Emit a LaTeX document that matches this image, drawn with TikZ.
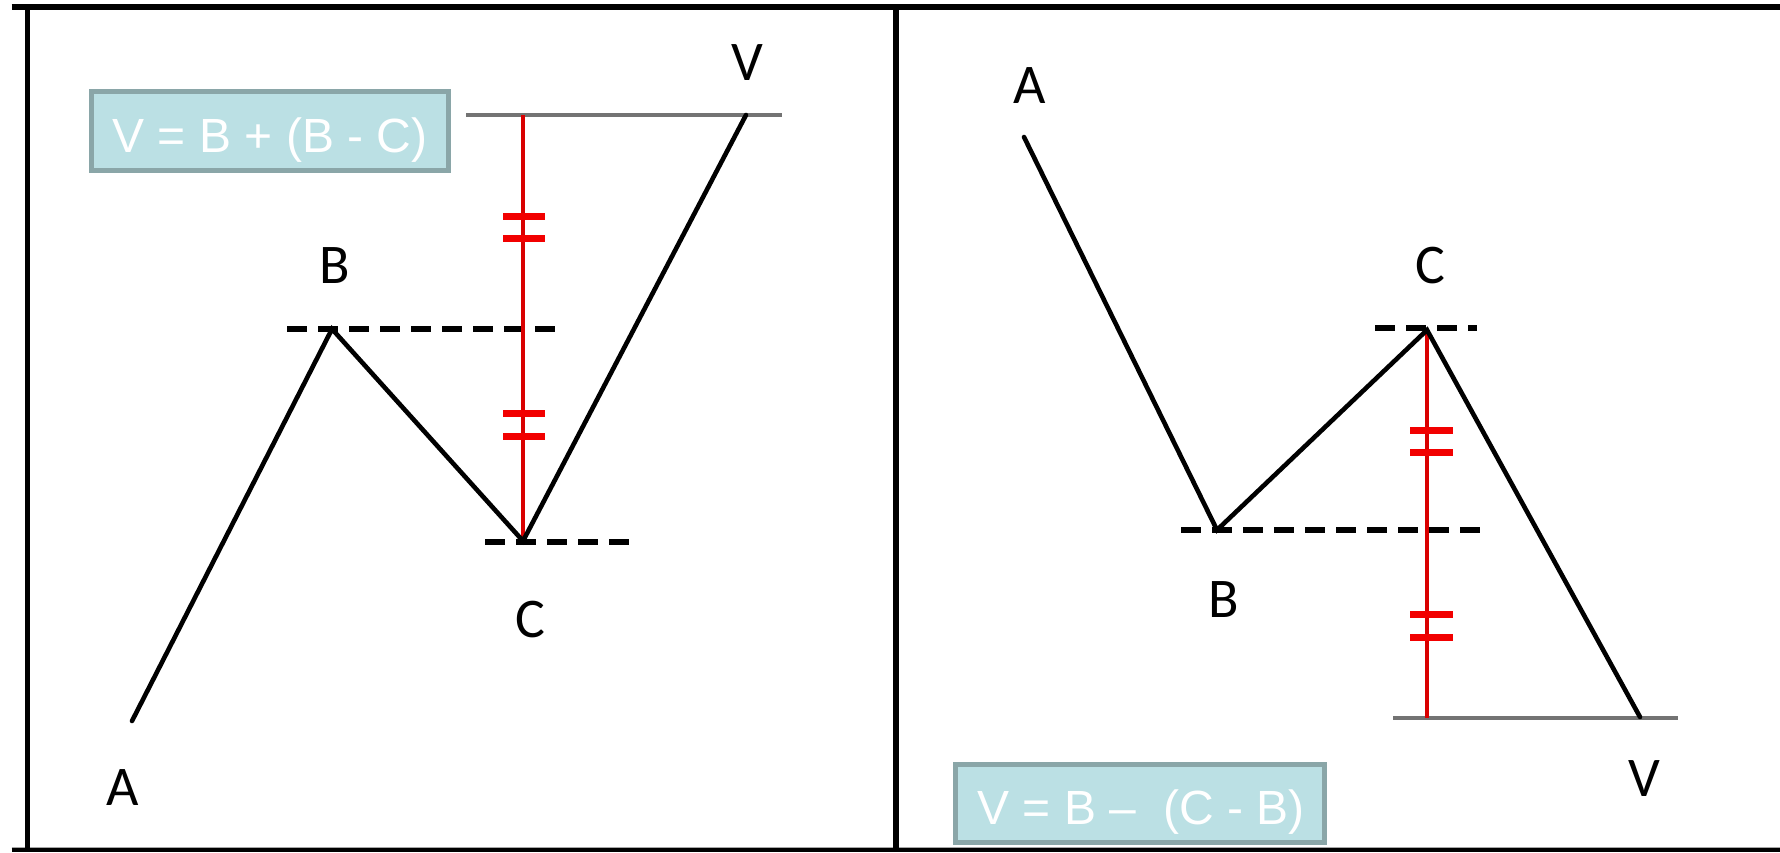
\documentclass[tikz,border=0pt]{standalone}
\usepackage{fontspec}
\setmainfont{Liberation Sans}
\newfontfamily\lblfont{Carlito}
\begin{document}
\begin{tikzpicture}[x=1pt,y=-1pt,
  frame/.style={line width=6pt,black},
  zig/.style={line width=4.6pt,black,line cap=round,line join=miter},
  lvl/.style={line width=6.5pt,black,dash pattern=on 20pt off 11pt},
  grayline/.style={line width=4pt,color=gray!110},
  redline/.style={line width=3.6pt,color=red!85!black},
  tick/.style={line width=7pt,color=red!95!black},
  lbl/.style={anchor=base,inner sep=0pt,font=\lblfont\fontsize{56}{60}\selectfont},
  formula/.style={anchor=base,inner sep=0pt,text=white,font=\fontsize{48}{54}\selectfont},
  fbox/.style={draw=boxborder,fill=boxfill,line width=5pt}]
\definecolor{boxfill}{HTML}{BBE0E4}
\definecolor{boxborder}{HTML}{8AA6A8}
\useasboundingbox (0,0) rectangle (1780,852);
\fill[white] (0,0) rectangle (1780,852);
% frame coordinates
\coordinate (tl) at (11.5,7); \coordinate (tr) at (1780,7);
\coordinate (lt) at (27.5,7); \coordinate (lb) at (27.5,852);
\coordinate (mt) at (896,7); \coordinate (mb) at (896,852);
\coordinate (bl) at (11.5,850); \coordinate (br) at (1780,850);
\coordinate (gl) at (11.5,847.5); \coordinate (gr) at (1780,847.5);
\draw[line width=4pt] (bl) -- (br);
\draw[line width=1.5pt,gray!70] (gl) -- (gr);
\draw[frame] (tl) -- (tr);
\draw[line width=5pt] (lt) -- (lb);
\draw[frame] (mt) -- (mb);
% ---------- left panel ----------
\coordinate (A1) at (132,721);
\coordinate (B1) at (332,329);
\coordinate (C1) at (523,541);
\coordinate (V1) at (746,115);
\coordinate (g1a) at (466,115); \coordinate (g1b) at (782,115);
\coordinate (b1a) at (287,329); \coordinate (b1b) at (557,329);
\coordinate (c1a) at (485,542); \coordinate (c1b) at (632,542);
\coordinate (r1t) at (523,115);
\draw[lvl] (b1a) -- (b1b);
\draw[lvl] (c1a) -- (c1b);
\draw[grayline] (g1a) -- (g1b);
\draw[redline] (r1t) -- (C1);
\foreach \yy [count=\i] in {216,238,413,436}{
  \coordinate (t1l\i) at (503,\yy); \coordinate (t1r\i) at (545,\yy);
  \draw[tick] (t1l\i) -- (t1r\i);
}
\draw[zig] (A1) -- (B1) -- (C1) -- (V1);
\node[lbl] (lA1) at (123,805) {A};
\node[lbl] (lB1) at (334.5,283) {B};
\node[lbl] (lC1) at (530,637) {C};
\node[lbl] (lV1) at (747,80) {V};
\path[fbox] (91.5,91.5) rectangle (448.5,170.5);
\node[formula] (f1) at (270,152) {V = B + (B - C)};
% ---------- right panel ----------
\coordinate (A2) at (1024,137);
\coordinate (B2) at (1217,530);
\coordinate (C2) at (1427,330);
\coordinate (V2) at (1640,717);
\coordinate (g2a) at (1393,718); \coordinate (g2b) at (1678,718);
\coordinate (b2a) at (1181,530); \coordinate (b2b) at (1484,530);
\coordinate (c2a) at (1375,328); \coordinate (c2b) at (1477,328);
\coordinate (r2b) at (1427,718);
\draw[lvl] (b2a) -- (b2b);
\draw[lvl] (c2a) -- (c2b);
\draw[grayline] (g2a) -- (g2b);
\draw[redline] (C2) -- (r2b);
\foreach \yy [count=\i] in {430,452,614,637}{
  \coordinate (t2l\i) at (1410,\yy); \coordinate (t2r\i) at (1453,\yy);
  \draw[tick] (t2l\i) -- (t2r\i);
}
\draw[zig] (A2) -- (B2) -- (C2) -- (V2);
\node[lbl] (lA2) at (1029.5,103) {A};
\node[lbl] (lB2) at (1223.5,617) {B};
\node[lbl] (lC2) at (1430,283) {C};
\node[lbl] (lV2) at (1644,796) {V};
\path[fbox] (955.5,764.5) rectangle (1324.5,842.5);
\node[formula] (f2) at (1141,824) {V = B –\ \ (C - B)};
\end{tikzpicture}
\end{document}
